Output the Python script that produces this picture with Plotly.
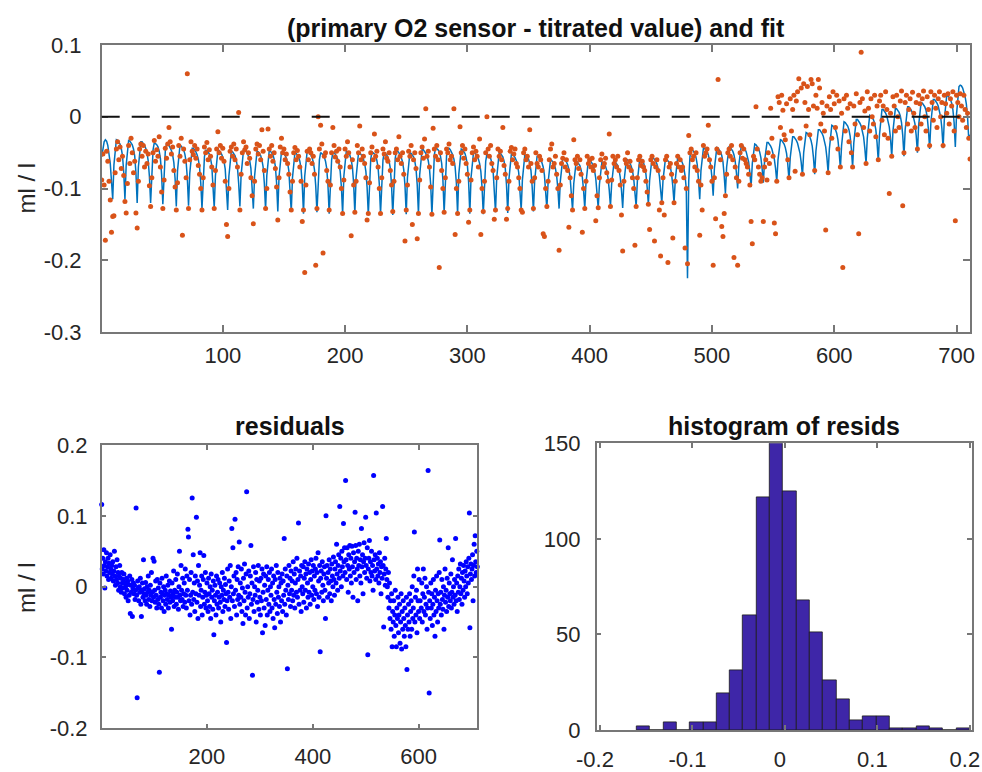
import plotly.graph_objects as go

# (primary O2 sensor - titrated value), ml/l, one value per sample (rows end at a fit dip)
o2_minus_titration = [
    -0.088, -0.052, -0.095, -0.172, -0.048, -0.062, -0.09, -0.116, -0.161, -0.139,
    -0.138, -0.078, -0.045, -0.035, -0.06, -0.042, -0.072, -0.055, -0.082, -0.118,
    -0.134, -0.093, -0.04, -0.065, -0.03, -0.05, -0.078, -0.062, -0.134, -0.155,
    -0.09, -0.045, -0.038, -0.055, -0.04, -0.07, -0.048, -0.065, -0.052, -0.096, -0.125,
    -0.085, -0.05, -0.033, -0.062, -0.046, -0.055, -0.028, -0.07, -0.105, -0.128,
    -0.088, -0.044, -0.058, -0.038, -0.015, -0.035, -0.052, -0.042, -0.075, -0.098, -0.13,
    -0.092, -0.04, -0.055, -0.03, -0.165, -0.045, -0.062, -0.085, 0.06, -0.128,
    -0.06, -0.035, -0.048, -0.053, -0.04, -0.058, -0.045, -0.068, -0.08, -0.1, -0.13,
    -0.085, -0.042, -0.05, -0.036, -0.06, -0.046, -0.055, -0.07, -0.095, -0.128,
    -0.075, -0.045, -0.021, -0.05, -0.04, -0.058, -0.044, -0.062, -0.09, -0.15, -0.167,
    -0.1, -0.048, -0.042, -0.055, -0.038, -0.06, -0.045, -0.07, 0.006, -0.13,
    -0.08, -0.05, -0.035, -0.046, -0.042, -0.065, -0.05, -0.058, -0.085, -0.11, -0.149,
    -0.09, -0.045, -0.038, -0.052, -0.04, -0.06, -0.018, -0.048, -0.075, -0.128,
    -0.1, -0.017, -0.045, -0.055, -0.04, -0.062, -0.05, -0.072, -0.098, -0.144,
    -0.085, -0.042, -0.03, -0.05, -0.045, -0.06, -0.052, -0.065, -0.08, -0.105, -0.13,
    -0.09, -0.05, -0.043, -0.06, -0.047, -0.055, -0.07, -0.09, -0.146, -0.13,
    -0.217, -0.095, -0.048, -0.06, -0.045, -0.05, -0.065, -0.055, -0.08, -0.207, -0.128,
    0.0, -0.045, -0.012, -0.038, -0.19, -0.055, -0.05, -0.075, -0.09, -0.13,
    -0.095, -0.05, -0.015, -0.04, -0.056, -0.048, -0.062, -0.045, -0.07, -0.1, -0.135,
    -0.088, -0.045, -0.055, -0.035, -0.05, -0.07, -0.166, -0.06, -0.095, -0.133,
    -0.09, -0.04, -0.05, -0.013, -0.06, -0.045, -0.055, -0.065, -0.085, -0.144, -0.135,
    -0.092, -0.05, -0.042, -0.06, -0.024, -0.055, -0.048, -0.07, -0.1, -0.135,
    -0.085, -0.045, -0.052, -0.035, -0.058, -0.062, -0.05, -0.075, -0.095, -0.132,
    -0.09, -0.05, -0.045, -0.06, -0.028, -0.055, -0.065, -0.05, -0.08, -0.173, -0.13,
    -0.095, -0.048, -0.055, -0.04, -0.15, -0.06, -0.05, -0.072, -0.17, -0.135,
    -0.088, -0.05, -0.042, -0.058, -0.031, 0.011, -0.055, -0.048, -0.07, -0.098, -0.136,
    -0.016, -0.045, -0.055, -0.04, -0.06, -0.21, -0.05, -0.075, -0.1, -0.133,
    -0.085, -0.045, -0.05, -0.038, -0.06, -0.055, -0.065, 0.011, -0.164, -0.1, -0.135,
    -0.09, -0.014, -0.05, -0.04, -0.058, -0.045, -0.065, -0.08, -0.147, -0.13,
    -0.088, -0.05, -0.042, -0.06, -0.048, -0.055, -0.07, -0.031, -0.164, -0.1, -0.132,
    -0.09, -0.05, 0.0, -0.045, -0.055, -0.04, -0.065, -0.075, -0.143, -0.13,
    -0.085, -0.045, -0.055, -0.048, -0.06, -0.015, -0.068, -0.08, -0.143, -0.128,
    -0.09, -0.048, -0.043, -0.06, -0.052, -0.045, -0.065, -0.07, -0.085, -0.1, -0.13,
    -0.133, -0.05, -0.045, -0.06, -0.055, -0.07, -0.018, -0.065, -0.09, -0.128,
    -0.085, -0.05, -0.065, -0.07, -0.055, -0.06, -0.075, -0.163, -0.167, -0.1, -0.125,
    -0.09, -0.06, -0.045, -0.038, -0.07, -0.065, -0.055, -0.08, -0.1, -0.186,
    -0.095, -0.065, -0.058, -0.05, -0.07, -0.06, -0.075, -0.154, -0.085, -0.11, -0.13,
    -0.032, -0.06, -0.065, -0.055, -0.072, -0.06, -0.08, -0.161, -0.1, -0.128,
    -0.09, -0.055, -0.065, -0.06, -0.07, -0.058, -0.075, -0.068, -0.145, -0.11, -0.127,
    -0.085, -0.06, -0.052, -0.07, -0.065, -0.058, -0.078, -0.09, -0.024, -0.125,
    -0.088, -0.055, -0.065, -0.06, -0.07, -0.055, -0.075, -0.095, -0.137, -0.187,
    -0.09, -0.06, -0.065, -0.05, -0.07, -0.062, -0.075, -0.085, -0.1, -0.179, -0.125,
    -0.085, -0.06, -0.055, -0.068, -0.062, -0.07, -0.075, -0.09, -0.105, -0.122,
    -0.157, -0.06, -0.055, -0.065, -0.173, -0.07, -0.06, -0.075, -0.13, -0.194, -0.12,
    -0.085, -0.137, -0.06, -0.055, -0.203, -0.07, -0.065, -0.08, -0.169, -0.12,
    -0.09, -0.065, -0.055, -0.07, -0.06, -0.075, -0.07, -0.085, -0.183, -0.1, -0.205,
    -0.026, -0.05, -0.045, -0.06, -0.055, -0.07, -0.05, -0.075, -0.09, -0.165,
    -0.095, -0.13, -0.04, -0.055, -0.05, -0.045, -0.012, -0.06, -0.07, -0.09, -0.207,
    -0.085, -0.142, -0.045, 0.052, -0.05, -0.06, -0.153, -0.167, -0.135, -0.11,
    -0.08, -0.05, -0.045, -0.055, -0.04, -0.06, -0.196, -0.07, -0.085, -0.207,
    -0.09, -0.05, -0.04, -0.058, -0.045, -0.06, -0.065, -0.07, -0.08, -0.095, -0.146,
    -0.177, -0.055, -0.06, 0.014, -0.045, -0.07, -0.08, -0.09, -0.085, -0.146,
    -0.07, -0.06, -0.088, -0.05, -0.065, 0.012, -0.03, -0.055, -0.148, -0.163, -0.09,
    0.028, 0.02, -0.015, 0.03, 0.009, -0.025, -0.032, 0.018, -0.06, -0.085,
    0.025, -0.02, 0.01, 0.03, -0.076, 0.022, 0.035, 0.053, -0.03, 0.04, -0.08,
    0.046, 0.02, -0.013, 0.042, 0.01, -0.025, 0.052, 0.046, 0.015, -0.075,
    0.03, 0.012, 0.052, 0.04, -0.01, 0.02, 0.005, -0.02, -0.158, 0.015, -0.078,
    0.028, 0.01, -0.03, 0.035, 0.018, -0.015, 0.03, -0.045, 0.022, -0.07,
    0.005, -0.21, 0.025, -0.02, 0.03, 0.012, -0.035, 0.018, -0.05, -0.07,
    0.015, -0.01, 0.032, -0.025, -0.163, 0.02, 0.09, 0.025, -0.015, 0.008, -0.065,
    0.035, 0.012, -0.02, 0.025, 0.0, -0.01, 0.03, -0.028, 0.015, -0.06,
    0.022, 0.03, -0.005, 0.015, -0.025, 0.035, 0.01, -0.03, -0.107, 0.005, -0.055,
    0.028, 0.015, -0.02, 0.03, 0.0, -0.015, 0.022, 0.036, -0.124, -0.05,
    0.02, 0.03, -0.01, 0.01, 0.025, -0.02, 0.034, 0.005, -0.015, 0.02, -0.045,
    0.03, 0.018, -0.01, 0.025, 0.036, 0.0, -0.02, 0.028, 0.01, -0.04,
    0.035, 0.02, -0.005, 0.03, 0.012, -0.015, 0.025, 0.035, 0.0, 0.02, -0.04,
    0.03, 0.018, 0.005, 0.032, -0.01, 0.025, 0.015, 0.035, -0.02, -0.145,
    0.03, 0.02, 0.0, 0.032, 0.015, -0.005, 0.03, 0.01, -0.015, 0.005, -0.03,
    -0.059,
]

# fitted curve, one value per sample
fit_values = [
    -0.056, -0.045, -0.035, -0.032, -0.034, -0.04, -0.05, -0.065, -0.09, -0.115,
    -0.067, -0.042, -0.032, -0.033, -0.035, -0.038, -0.044, -0.054, -0.077, -0.115,
    -0.068, -0.043, -0.033, -0.034, -0.036, -0.039, -0.045, -0.055, -0.078, -0.12,
    -0.07, -0.045, -0.035, -0.035, -0.037, -0.04, -0.044, -0.05, -0.061, -0.083, -0.12,
    -0.071, -0.046, -0.036, -0.037, -0.039, -0.042, -0.048, -0.058, -0.081, -0.122,
    -0.073, -0.048, -0.038, -0.038, -0.04, -0.043, -0.047, -0.053, -0.064, -0.086, -0.125,
    -0.075, -0.05, -0.04, -0.041, -0.043, -0.046, -0.052, -0.062, -0.085, -0.124,
    -0.079, -0.054, -0.044, -0.044, -0.046, -0.049, -0.053, -0.059, -0.07, -0.092, -0.128,
    -0.081, -0.056, -0.046, -0.047, -0.049, -0.052, -0.058, -0.068, -0.091, -0.127,
    -0.082, -0.057, -0.047, -0.047, -0.049, -0.052, -0.056, -0.062, -0.073, -0.095, -0.13,
    -0.083, -0.058, -0.048, -0.049, -0.051, -0.054, -0.06, -0.07, -0.093, -0.125,
    -0.081, -0.056, -0.046, -0.046, -0.048, -0.051, -0.055, -0.061, -0.072, -0.094, -0.128,
    -0.083, -0.058, -0.048, -0.049, -0.051, -0.054, -0.06, -0.07, -0.093, -0.13,
    -0.082, -0.057, -0.047, -0.048, -0.05, -0.053, -0.059, -0.069, -0.092, -0.132,
    -0.084, -0.059, -0.049, -0.049, -0.051, -0.054, -0.058, -0.064, -0.075, -0.097, -0.132,
    -0.085, -0.06, -0.05, -0.051, -0.053, -0.056, -0.062, -0.072, -0.095, -0.135,
    -0.083, -0.058, -0.048, -0.048, -0.05, -0.053, -0.057, -0.063, -0.074, -0.096, -0.133,
    -0.085, -0.06, -0.05, -0.051, -0.053, -0.056, -0.062, -0.072, -0.095, -0.135,
    -0.085, -0.06, -0.05, -0.05, -0.052, -0.055, -0.059, -0.065, -0.076, -0.098, -0.136,
    -0.083, -0.058, -0.048, -0.049, -0.051, -0.054, -0.06, -0.07, -0.093, -0.135,
    -0.085, -0.06, -0.05, -0.05, -0.052, -0.055, -0.059, -0.065, -0.076, -0.098, -0.137,
    -0.084, -0.059, -0.049, -0.05, -0.052, -0.055, -0.061, -0.071, -0.094, -0.135,
    -0.085, -0.06, -0.05, -0.051, -0.053, -0.056, -0.062, -0.072, -0.095, -0.137,
    -0.083, -0.058, -0.048, -0.048, -0.05, -0.053, -0.057, -0.063, -0.074, -0.096, -0.136,
    -0.085, -0.06, -0.05, -0.051, -0.053, -0.056, -0.062, -0.072, -0.095, -0.135,
    -0.081, -0.056, -0.046, -0.046, -0.048, -0.051, -0.055, -0.061, -0.072, -0.094, -0.137,
    -0.078, -0.053, -0.043, -0.044, -0.046, -0.049, -0.055, -0.065, -0.088, -0.134,
    -0.079, -0.054, -0.044, -0.044, -0.046, -0.049, -0.053, -0.059, -0.07, -0.092, -0.136,
    -0.08, -0.055, -0.045, -0.046, -0.048, -0.051, -0.057, -0.067, -0.09, -0.135,
    -0.085, -0.06, -0.05, -0.05, -0.052, -0.055, -0.059, -0.065, -0.076, -0.098, -0.136,
    -0.087, -0.062, -0.052, -0.053, -0.055, -0.058, -0.064, -0.074, -0.097, -0.133,
    -0.085, -0.06, -0.05, -0.051, -0.053, -0.056, -0.062, -0.072, -0.095, -0.134,
    -0.087, -0.062, -0.052, -0.052, -0.054, -0.057, -0.061, -0.067, -0.078, -0.1, -0.13,
    -0.088, -0.063, -0.053, -0.054, -0.056, -0.059, -0.065, -0.075, -0.098, -0.132,
    -0.09, -0.065, -0.055, -0.055, -0.057, -0.06, -0.064, -0.07, -0.081, -0.103, -0.128,
    -0.092, -0.07, -0.06, -0.061, -0.063, -0.066, -0.072, -0.082, -0.1, -0.128,
    -0.09, -0.068, -0.058, -0.058, -0.06, -0.063, -0.067, -0.073, -0.084, -0.104, -0.13,
    -0.093, -0.072, -0.062, -0.063, -0.065, -0.068, -0.074, -0.084, -0.102, -0.128,
    -0.092, -0.07, -0.06, -0.06, -0.062, -0.065, -0.069, -0.075, -0.086, -0.105, -0.127,
    -0.094, -0.073, -0.063, -0.064, -0.066, -0.069, -0.075, -0.085, -0.102, -0.125,
    -0.093, -0.072, -0.062, -0.063, -0.065, -0.068, -0.074, -0.084, -0.102, -0.127,
    -0.092, -0.07, -0.06, -0.06, -0.062, -0.065, -0.069, -0.075, -0.086, -0.104, -0.125,
    -0.09, -0.068, -0.058, -0.059, -0.061, -0.064, -0.07, -0.08, -0.098, -0.122,
    -0.089, -0.067, -0.057, -0.057, -0.059, -0.062, -0.066, -0.072, -0.083, -0.1, -0.12,
    -0.088, -0.068, -0.058, -0.059, -0.061, -0.064, -0.07, -0.08, -0.097, -0.12,
    -0.088, -0.066, -0.056, -0.056, -0.058, -0.061, -0.065, -0.071, -0.082, -0.1, -0.225,
    -0.09, -0.056, -0.045, -0.046, -0.048, -0.051, -0.057, -0.067, -0.088, -0.115,
    -0.075, -0.054, -0.044, -0.044, -0.046, -0.049, -0.053, -0.059, -0.068, -0.085, -0.11,
    -0.072, -0.053, -0.043, -0.044, -0.046, -0.049, -0.054, -0.063, -0.082, -0.107,
    -0.07, -0.052, -0.042, -0.043, -0.045, -0.048, -0.053, -0.062, -0.078, -0.1,
    -0.067, -0.05, -0.04, -0.04, -0.042, -0.045, -0.049, -0.055, -0.063, -0.078, -0.098,
    -0.065, -0.048, -0.038, -0.039, -0.041, -0.044, -0.049, -0.057, -0.072, -0.092,
    -0.062, -0.046, -0.036, -0.036, -0.038, -0.041, -0.045, -0.051, -0.059, -0.072, -0.09,
    -0.06, -0.042, -0.032, -0.033, -0.035, -0.038, -0.043, -0.051, -0.066, -0.088,
    -0.057, -0.038, -0.028, -0.028, -0.03, -0.033, -0.037, -0.043, -0.051, -0.064, -0.082,
    -0.05, -0.032, -0.022, -0.023, -0.025, -0.028, -0.033, -0.041, -0.057, -0.08,
    -0.048, -0.028, -0.018, -0.018, -0.02, -0.023, -0.027, -0.033, -0.042, -0.057, -0.078,
    -0.045, -0.022, -0.012, -0.013, -0.015, -0.018, -0.023, -0.032, -0.049, -0.072,
    -0.04, -0.017, -0.007, -0.008, -0.01, -0.013, -0.018, -0.027, -0.045, -0.07,
    -0.036, -0.014, -0.004, -0.004, -0.006, -0.009, -0.013, -0.019, -0.028, -0.044, -0.065,
    -0.03, -0.008, 0.002, 0.001, -0.001, -0.004, -0.009, -0.018, -0.036, -0.062,
    -0.025, 0.0, 0.01, 0.01, 0.008, 0.005, 0.001, -0.005, -0.014, -0.03, -0.056,
    -0.02, 0.002, 0.012, 0.011, 0.009, 0.006, 0.001, -0.008, -0.026, -0.055,
    -0.018, 0.004, 0.014, 0.014, 0.012, 0.009, 0.005, -0.001, -0.01, -0.026, -0.05,
    -0.012, 0.01, 0.02, 0.019, 0.017, 0.014, 0.009, 0.0, -0.018, -0.045,
    -0.008, 0.014, 0.024, 0.024, 0.022, 0.019, 0.015, 0.009, 0.0, -0.016, -0.044,
    -0.004, 0.02, 0.03, 0.029, 0.027, 0.024, 0.019, 0.01, -0.008, -0.042,
    0.004, 0.03, 0.042, 0.044, 0.043, 0.04, 0.035, 0.028, 0.018, 0.0, -0.032,
    -0.025,
]

# residuals of the fit, ml/l
residuals = [
    0.116, 0.025, 0.04, 0.018, 0.052, 0.03, -0.002, 0.035, 0.022, 0.048, 0.015, 0.028, 0.04, 0.01, 0.033, 0.02, 0.045, 0.025, 0.012, 0.03,
    0.018, 0.035, 0.008, 0.022, 0.05, 0.015, 0.002, 0.028, 0.01, 0.038, 0.005, 0.02, -0.005, 0.015, 0.03, 0.0, 0.012, -0.008, 0.02, 0.005,
    -0.002, 0.01, 0.018, -0.01, 0.005, 0.0, -0.015, 0.012, -0.005, 0.008, -0.02, 0.003, -0.012, 0.015, -0.038, 0.002, -0.008, 0.01, -0.042, -0.003,
    0.005, -0.01, 0.002, -0.018, -0.005, 0.111, -0.012, -0.157, 0.008, -0.002, -0.02, 0.0, -0.008, 0.012, -0.025, -0.042, -0.005, 0.005, -0.015, 0.038,
    -0.01, -0.003, -0.02, 0.006, -0.012, -0.025, 0.0, -0.008, 0.015, -0.018, -0.005, -0.028, 0.002, -0.012, 0.02, -0.02, -0.008, 0.04, -0.015, 0.036,
    -0.005, -0.022, 0.008, -0.012, -0.03, 0.01, -0.018, -0.002, -0.025, -0.121, 0.005, -0.015, -0.008, -0.03, 0.012, -0.01, -0.02, 0.0, -0.035, -0.012,
    -0.005, -0.025, 0.015, -0.01, -0.018, 0.002, -0.03, -0.012, 0.008, -0.022, -0.006, -0.015, -0.06, 0.005, -0.02, -0.01, 0.022, -0.028, -0.005, -0.015,
    0.01, -0.025, -0.008, 0.018, -0.015, -0.032, 0.0, 0.05, -0.012, -0.02, 0.03, -0.005, -0.018, 0.012, -0.028, -0.01, 0.005, -0.022, 0.025, -0.012,
    -0.03, 0.015, -0.005, 0.081, 0.07, -0.02, 0.01, -0.04, -0.012, 0.02, -0.025, 0.125, -0.008, 0.045, -0.018, 0.005, -0.035, 0.015, -0.01, 0.098,
    -0.022, 0.008, -0.045, 0.03, -0.012, 0.002, 0.048, -0.028, -0.005, 0.015, -0.04, -0.015, 0.01, 0.044, -0.025, -0.008, 0.02, -0.03, -0.012, 0.005,
    -0.02, -0.035, 0.012, -0.01, -0.028, 0.0, -0.045, 0.018, -0.015, -0.005, -0.032, 0.008, -0.068, -0.02, 0.002, -0.012, -0.04, 0.015, -0.025, -0.008,
    0.01, -0.03, -0.015, 0.005, -0.022, -0.05, 0.0, -0.012, 0.02, -0.035, -0.005, -0.018, 0.012, -0.028, 0.003, -0.01, -0.079, -0.02, 0.025, -0.008,
    -0.032, 0.008, -0.015, 0.03, -0.045, 0.0, 0.082, -0.02, 0.055, -0.01, 0.015, -0.028, 0.095, -0.005, 0.02, -0.04, 0.01, -0.018, 0.028, -0.012,
    0.063, -0.025, 0.005, -0.015, 0.025, -0.035, -0.002, -0.052, 0.012, -0.02, 0.032, -0.008, -0.04, 0.018, 0.134, -0.03, 0.0, -0.015, 0.022, -0.045,
    -0.01, 0.015, 0.058, -0.025, 0.005, -0.125, -0.018, 0.028, -0.035, 0.0, -0.012, 0.02, -0.05, 0.01, -0.022, -0.005, 0.03, -0.032, 0.008, -0.015,
    -0.04, 0.012, -0.02, 0.025, -0.065, -0.008, 0.018, -0.03, 0.002, -0.055, 0.015, -0.018, 0.028, -0.04, -0.005, 0.01, -0.025, 0.02, -0.035, 0.0,
    -0.012, 0.025, -0.03, 0.005, -0.045, 0.015, -0.018, -0.058, 0.01, -0.025, 0.03, -0.008, -0.038, 0.02, -0.015, 0.0, -0.028, 0.012, -0.05, 0.005,
    -0.02, 0.018, -0.035, 0.008, -0.012, 0.068, -0.025, 0.025, -0.005, -0.04, 0.015, -0.116, 0.002, -0.018, 0.03, -0.01, 0.012, -0.028, 0.022, -0.005,
    0.008, -0.02, 0.035, -0.012, 0.018, -0.03, 0.005, 0.025, -0.008, 0.04, -0.015, 0.01, 0.09, -0.025, 0.022, -0.005, 0.015, -0.035, 0.03, 0.0,
    -0.01, 0.028, -0.022, 0.012, 0.035, -0.005, 0.018, -0.03, 0.025, 0.005, -0.015, 0.032, -0.008, 0.02, -0.025, 0.01, 0.038, -0.012, 0.022, 0.0,
    0.03, -0.018, 0.015, -0.005, 0.025, 0.04, -0.01, 0.02, -0.028, 0.048, 0.008, -0.015, 0.03, -0.092, 0.012, 0.022, -0.008, 0.035, 0.002, -0.02,
    0.018, 0.028, -0.005, -0.045, 0.1, 0.012, 0.03, -0.015, 0.02, 0.005, 0.038, -0.01, 0.025, 0.008, -0.02, 0.032, 0.015, 0.0, 0.042, 0.01,
    -0.012, 0.025, 0.035, 0.005, 0.06, 0.018, -0.005, 0.03, 0.045, 0.012, 0.113, 0.022, 0.04, 0.0, 0.05, 0.028, 0.015, 0.089, 0.035, 0.055,
    0.02, 0.15, 0.038, 0.01, 0.055, 0.03, -0.008, 0.045, 0.025, 0.058, 0.015, 0.04, 0.005, 0.057, 0.028, -0.015, 0.048, 0.02, 0.035, 0.105,
    0.058, 0.01, 0.04, 0.025, -0.02, 0.05, 0.03, 0.06, 0.015, 0.038, 0.005, 0.082, 0.028, 0.045, -0.01, 0.035, 0.062, 0.02, 0.04, 0.098,
    0.03, 0.012, 0.055, -0.096, 0.025, 0.04, 0.065, 0.008, 0.035, 0.02, 0.05, 0.015, 0.03, -0.005, 0.157, 0.038, 0.022, 0.045, 0.01, 0.104,
    0.025, 0.04, 0.015, 0.032, 0.005, 0.048, 0.02, 0.035, -0.01, 0.028, 0.012, 0.113, 0.03, -0.057, 0.018, 0.04, 0.002, 0.025, 0.068, 0.01,
    0.0, -0.015, 0.02, -0.03, 0.005, -0.045, -0.02, -0.06, -0.01, -0.085, -0.035, -0.05, -0.02, -0.07, -0.04, -0.005, -0.055, -0.085, -0.03, -0.045,
    -0.015, -0.065, -0.04, -0.025, -0.08, -0.05, -0.01, -0.088, -0.035, -0.06, -0.02, -0.045, -0.07, -0.03, -0.055, -0.085, -0.015, -0.117, -0.04, -0.06,
    -0.025, -0.05, -0.01, -0.07, -0.035, -0.02, -0.06, 0.0, -0.045, -0.03, 0.015, 0.077, -0.05, -0.015, -0.04, -0.005, -0.065, 0.025, -0.02, -0.035,
    0.01, -0.045, -0.02, 0.203, -0.03, 0.005, -0.05, -0.01, 0.025, -0.035, -0.015, 0.012, -0.04, -0.025, 0.0, -0.06, -0.03, 0.164, -0.008, -0.15,
    -0.02, -0.045, 0.005, -0.03, -0.01, -0.055, -0.025, 0.01, -0.04, -0.015, -0.07, -0.005, -0.035, 0.015, -0.02, -0.05, -0.01, -0.03, 0.02, 0.066,
    -0.025, -0.008, -0.04, 0.01, -0.018, -0.032, 0.0, -0.06, -0.012, 0.025, -0.022, -0.005, -0.035, 0.012, -0.015, 0.055, -0.028, 0.005, -0.01, -0.02,
    0.018, -0.03, -0.008, 0.038, -0.015, 0.0, -0.025, 0.01, -0.012, 0.068, -0.02, 0.005, -0.035, 0.015, -0.008, 0.025, -0.018, 0.0, 0.032, -0.01,
    0.012, -0.025, 0.02, -0.005, 0.03, 0.008, -0.015, 0.022, 0.0, 0.035, 0.015, -0.01, 0.028, 0.005, 0.04, 0.104, -0.058, 0.018, 0.032, 0.01,
    0.025, 0.045, -0.02, 0.03, 0.06, 0.015, 0.072, 0.035, 0.02, 0.05, 0.028,
]

# histogram of residuals
hist_bin_centers = [
    -0.1531, -0.1387, -0.1243, -0.1099, -0.0955, -0.0811, -0.0667, -0.0523, -0.0379,
    -0.0235, -0.0091, 0.0053, 0.0197, 0.0341, 0.0485, 0.0629, 0.0773, 0.0917, 0.1061,
    0.1205, 0.1349, 0.1493, 0.1637, 0.1781, 0.1925,
]
hist_counts = [2, 0, 4, 0, 4, 4, 19, 31, 60, 122, 150, 125, 68, 51, 26, 16, 5, 7, 7, 1, 1, 2, 1, 0, 1]
hist_bin_width = 0.0144

top_x_ticks = [100, 200, 300, 400, 500, 600, 700]
top_y_ticks = [-0.3, -0.2, -0.1, 0, 0.1]
resid_x_ticks = [200, 400, 600]
resid_y_ticks = [-0.2, -0.1, 0, 0.1, 0.2]
hist_x_ticks = [-0.2, -0.1, 0, 0.1, 0.2]
hist_y_ticks = [0, 50, 100, 150]

FONT = "Liberation Sans, Arial, Helvetica, sans-serif"
W, H = 982, 772


def labels(vals):
    # MATLAB style: plain hyphen for negatives
    return [f"{v:g}" for v in vals]


def px_x(a, b):
    return [a / W, b / W]


def px_y(top, bottom):
    return [1 - bottom / H, 1 - top / H]


axis_style = dict(
    showline=True, linecolor="#777777", linewidth=1.5, mirror="ticks",
    ticks="inside", tickcolor="#777777", tickwidth=1.5,
    showgrid=False, zeroline=False, automargin=False, ticklabeloverflow="allow",
    tickfont=dict(family=FONT, size=22, color="#262626"),
)

samples = list(range(1, len(o2_minus_titration) + 1))
fit_samples = list(range(1, len(fit_values) + 1))
resid_samples = list(range(1, len(residuals) + 1))

fig = go.Figure()

fig.add_trace(go.Scatter(
    x=fit_samples, y=fit_values, mode="lines",
    line=dict(color="#0072bd", width=1.5),
    xaxis="x", yaxis="y", hoverinfo="skip",
))
fig.add_trace(go.Scatter(
    x=samples, y=o2_minus_titration, mode="markers",
    marker=dict(color="#d95319", size=5),
    xaxis="x", yaxis="y",
))
fig.add_trace(go.Scatter(
    x=resid_samples, y=residuals, mode="markers",
    marker=dict(color="#0000ff", size=5), cliponaxis=False,
    xaxis="x2", yaxis="y2",
))
fig.add_trace(go.Bar(
    x=hist_bin_centers, y=hist_counts, width=hist_bin_width,
    marker=dict(color="#3e26a8", line=dict(color="#1a1a1a", width=0.8)),
    xaxis="x3", yaxis="y3",
))

# zero reference line on the top panel
fig.add_shape(
    type="line", xref="x domain", yref="y", x0=0, x1=1, y0=0, y1=0,
    line=dict(color="#111111", width=2, dash="18px,12px"),
)

fig.update_layout(
    width=W, height=H, autosize=False,
    margin=dict(l=0, r=0, t=0, b=0),
    paper_bgcolor="white", plot_bgcolor="white",
    showlegend=False,
    font=dict(family=FONT, color="#262626"),
    xaxis=dict(axis_style, domain=px_x(101.7, 970), range=[1, 711], anchor="y",
               tickvals=top_x_ticks, ticktext=labels(top_x_ticks), ticklen=7,
               ticklabelstandoff=3),
    yaxis=dict(axis_style, domain=px_y(45, 332), range=[-0.3, 0.1], anchor="x",
               tickvals=top_y_ticks, ticktext=labels(top_y_ticks), ticklen=7,
               ticklabelstandoff=14),
    xaxis2=dict(axis_style, domain=px_x(101.7, 477.3), range=[1, 711], anchor="y2",
                tickvals=resid_x_ticks, ticktext=labels(resid_x_ticks), ticklen=5,
                ticklabelstandoff=8),
    yaxis2=dict(axis_style, domain=px_y(445, 728.3), range=[-0.2, 0.2], anchor="x2",
                tickvals=resid_y_ticks, ticktext=labels(resid_y_ticks), ticklen=5,
                ticklabelstandoff=8),
    xaxis3=dict(axis_style, domain=px_x(596.7, 971.7), range=[-0.2035, 0.202], anchor="y3",
                tickvals=hist_x_ticks, ticktext=labels(hist_x_ticks), ticklen=5,
                ticklabelstandoff=9, ticklabelshift=-5),
    yaxis3=dict(axis_style, domain=px_y(443.3, 730), range=[0, 150], anchor="x3",
                tickvals=hist_y_ticks, ticktext=labels(hist_y_ticks), ticklen=5,
                ticklabelstandoff=10),
    bargap=0,
)

title_font = dict(family=FONT, size=25, color="#111111")
label_font = dict(family=FONT, size=24, color="#262626")
annotations = [
    dict(text="<b>(primary O2 sensor - titrated value) and fit</b>", x=535.8 / W, y=1 - 28 / H,
         font=title_font),
    dict(text="<b>residuals</b>", x=289.5 / W, y=1 - 426 / H, font=title_font),
    dict(text="<b>histogram of resids</b>", x=784 / W, y=1 - 426 / H, font=title_font),
    dict(text="ml / l", x=26 / W, y=1 - 188.5 / H, textangle=-90, font=label_font),
    dict(text="ml / l", x=26 / W, y=1 - 588 / H, textangle=-90, font=label_font),
]
for a in annotations:
    fig.add_annotation(xref="paper", yref="paper", showarrow=False,
                       xanchor="center", yanchor="middle", **a)

fig.write_html("out.html", config={"displayModeBar": False},
               post_script="document.body.style.margin='0';")
